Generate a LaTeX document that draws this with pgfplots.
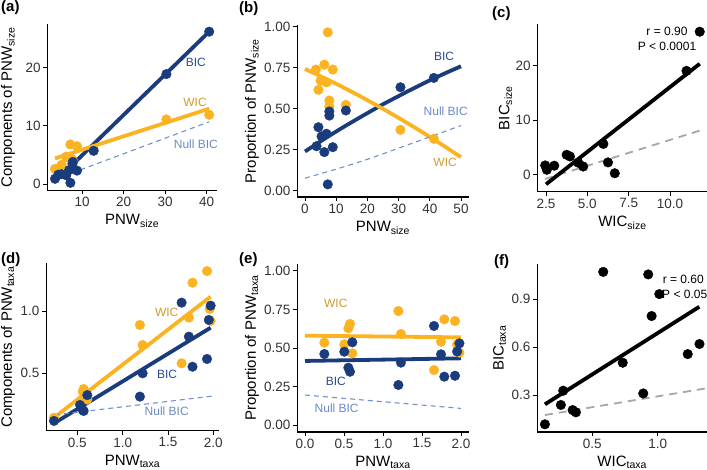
\documentclass[border=0pt]{standalone}
\usepackage{fontspec}
\setmainfont{Liberation Sans}
\usepackage{pgfplots}
\pgfplotsset{compat=1.18}
\definecolor{bicblue}{HTML}{1B3C7C}
\definecolor{wicorange}{HTML}{FBB321}
\definecolor{wictext}{HTML}{D09A2C}
\definecolor{bictext}{HTML}{2A4A8E}
\definecolor{nulltext}{HTML}{6B89C4}
\definecolor{nullline}{HTML}{7090CB}
\definecolor{grayline}{HTML}{A6A6A6}
\definecolor{tickgray}{HTML}{333333}
\pgfplotsset{
  panel/.style={
    scale only axis, anchor=south west, clip=false,
    axis lines*=left, axis line style={line width=1.1pt, -},
    tick align=outside, major tick length=4pt,
    tick style={line width=0.9pt, black},
    /pgf/number format/assume math mode=true,
    tick label style={font=\fontsize{13.5}{13.5}\selectfont, text=tickgray},
    xticklabel style={inner sep=2.5pt},
    yticklabel style={inner sep=2.5pt},
    label style={font=\fontsize{15}{15}\selectfont},
  },
  xlab/.style={xlabel style={at={([yshift=-24pt]axis description cs:0.5,0)}, anchor=north, inner sep=0pt}},
  ylab/.style={ylabel style={at={([xshift=-#1]axis description cs:0,0.5)}, anchor=south, inner sep=0pt}},
  bicpts/.style={only marks, mark=*, mark size=4.8pt, color=bicblue},
  wicpts/.style={only marks, mark=*, mark size=4.8pt, color=wicorange},
  blkpts/.style={only marks, mark=*, mark size=4.8pt, color=black},
  bicline/.style={no marks, line width=3.8pt, color=bicblue},
  wicline/.style={no marks, line width=3.8pt, color=wicorange},
  blkline/.style={no marks, line width=3.8pt, color=black},
  nullbic/.style={no marks, line width=1.1pt, color=nullline, dash pattern=on 5pt off 4pt},
  nullgray/.style={no marks, line width=1.8pt, color=grayline, dash pattern=on 8pt off 6pt},
}
\newcommand{\ann}{\fontsize{12}{12}\selectfont}
\begin{document}
\begin{tikzpicture}
\path[use as bounding box] (0pt,0pt) rectangle (707pt,470pt);

% (a)
\begin{axis}[panel, xlab, ylab=32pt,
  at={(47.3pt,279.6pt)}, width=169.6pt, height=166.3pt,
  xmin=1.645, xmax=42.455, ymin=-1.1, ymax=27.5,
  xtick={10,20,30,40}, ytick={0,10,20},
  xlabel={PNW\textsubscript{size}}, ylabel={Components of PNW\textsubscript{size}}]
\addplot[wicpts] coordinates {(3.5,2.6)(4.3,2.7)(5.1,3.3)(6.2,4.7)(6.9,4.5)(7.2,6.8)(7.7,4.2)(7.8,4.0)(8.8,6.5)(12.8,6.0)(30.3,11.1)(40.6,11.9)};
\addplot[bicpts] coordinates {(3.5,0.9)(4.3,1.6)(5.1,1.7)(6.2,1.5)(6.9,2.4)(7.2,0.2)(7.7,3.5)(7.8,3.8)(8.8,2.3)(12.8,5.7)(30.3,18.9)(40.6,26.2)};
\addplot[bicline] coordinates {(3.5,0.4)(40.6,26.2)};
\addplot[wicline] coordinates {(3.5,4.4)(40.6,12.95)};
\addplot[nullbic] coordinates {(3.5,0.8)(40.6,10.7)};
\node[font=\ann, text=bictext] at (axis cs:37.4,20.9) {BIC};
\node[font=\ann, text=wictext] at (axis cs:37.2,14.0) {WIC};
\node[font=\ann, text=nulltext] at (axis cs:37.4,6.9) {Null BIC};
\end{axis}

% (b)
\begin{axis}[panel, xlab, ylab=38pt,
  at={(297.2pt,273pt)}, width=171.6pt, height=172pt,
  xmin=-2.5, xmax=52.5, ymin=-0.04, ymax=1.01,
  xtick={0,10,20,30,40,50}, ytick={0,0.25,0.5,0.75,1},
  yticklabel style={/pgf/number format/.cd, fixed, fixed zerofill, precision=2},
  xlabel={PNW\textsubscript{size}}, ylabel={Proportion of PNW\textsubscript{size}}]
\addplot[wicpts] coordinates {(3.5,0.738)(4.3,0.614)(5.0,0.67)(6.2,0.768)(6.9,0.66)(7.3,0.965)(7.8,0.549)(7.8,0.512)(8.9,0.738)(13.1,0.522)(30.6,0.37)(41.3,0.315)};
\addplot[bicpts] coordinates {(3.7,0.27)(4.3,0.386)(5.3,0.33)(6.2,0.234)(6.9,0.346)(7.3,0.037)(7.8,0.457)(7.8,0.482)(8.9,0.264)(13.1,0.488)(30.6,0.63)(41.3,0.687)};
\addplot[bicline, smooth] coordinates {(0,0.238)(5,0.300)(10,0.360)(15,0.417)(20,0.472)(25,0.526)(30,0.576)(35,0.625)(40,0.672)(45,0.716)(50,0.758)};
\addplot[wicline, smooth] coordinates {(0,0.742)(5,0.697)(10,0.651)(15,0.602)(20,0.551)(25,0.498)(30,0.443)(35,0.386)(40,0.327)(45,0.266)(50,0.203)};
\addplot[nullbic, smooth] coordinates {(0,0.075)(10,0.13)(20,0.19)(30,0.258)(40,0.327)(50,0.396)};
\node[font=\ann, text=bictext] at (axis cs:44.6,0.82) {BIC};
\node[font=\ann, text=nulltext] at (axis cs:45.1,0.485) {Null BIC};
\node[font=\ann, text=wictext] at (axis cs:44.9,0.169) {WIC};
\end{axis}

% (c)
\begin{axis}[panel, xlab, ylab=25pt,
  at={(537.4pt,278.1pt)}, width=170.1pt, height=167.8pt,
  xmin=1.98, xmax=12.27, ymin=-3.17, ymax=27.7,
  xtick={2.5,5,7.5,10}, ytick={0,10,20},
  xticklabel style={/pgf/number format/.cd, fixed, fixed zerofill, precision=1},
  xlabel={WIC\textsubscript{size}}, ylabel={BIC\textsubscript{size}}]
\addplot[blkpts] coordinates {(2.55,0.9)(2.45,1.7)(3.0,1.65)(4.75,1.5)(4.45,2.2)(6.66,0.26)(3.95,3.35)(3.75,3.65)(6.25,2.25)(5.97,5.65)(11.0,19.1)(11.8,26.3)};
\addplot[nullgray] coordinates {(2.44,-0.8)(11.8,8.1)};
\addplot[blkline] coordinates {(2.5,-1.77)(11.8,20.4)};
\node[font=\ann] at (axis cs:9.82,26.3) {r = 0.90};
\node[font=\ann] at (axis cs:9.82,23.55) {P < 0.0001};
\end{axis}

% (d)
\begin{axis}[panel, xlab, ylab=31pt,
  at={(46.2pt,39.1pt)}, width=172.6pt, height=167.4pt,
  xmin=0.157, xmax=2.06, ymin=0.038, ymax=1.381,
  xtick={0.5,1,1.5,2}, ytick={0.5,1},
  xticklabel style={/pgf/number format/.cd, fixed, fixed zerofill, precision=1},
  yticklabel style={/pgf/number format/.cd, fixed, fixed zerofill, precision=1},
  xlabel={PNW\textsubscript{taxa}}, ylabel={Components of PNW\textsubscript{taxa}}]
\addplot[wicpts] coordinates {(0.243,0.144)(0.53,0.27)(0.56,0.353)(0.57,0.374)(0.61,0.29)(1.19,0.888)(1.22,0.727)(1.65,0.58)(1.73,0.947)(1.77,1.227)(1.93,1.32)(1.96,1.016)(1.97,0.92)};
\addplot[bicpts] coordinates {(0.243,0.118)(0.53,0.246)(0.56,0.205)(0.57,0.198)(0.61,0.325)(1.19,0.313)(1.22,0.5)(1.65,1.067)(1.73,0.794)(1.77,0.553)(1.93,0.615)(1.95,0.928)(1.97,1.043)};
\addplot[bicline] coordinates {(0.243,0.099)(1.97,0.866)};
\addplot[wicline] coordinates {(0.243,0.144)(1.97,1.115)};
\addplot[nullbic] coordinates {(0.25,0.166)(2.0,0.318)};
\node[font=\ann, text=wictext] at (axis cs:1.486,0.99) {WIC};
\node[font=\ann, text=bictext] at (axis cs:1.49,0.492) {BIC};
\node[font=\ann, text=nulltext] at (axis cs:1.486,0.197) {Null BIC};
\end{axis}

% (e)
\begin{axis}[panel, xlab, ylab=38pt,
  at={(297.2pt,38pt)}, width=171.6pt, height=168pt,
  xmin=-0.1, xmax=2.1, ymin=-0.045, ymax=1.045,
  xtick={0,0.5,1,1.5,2}, ytick={0,0.25,0.5,0.75,1},
  xticklabel style={/pgf/number format/.cd, fixed, fixed zerofill, precision=1},
  yticklabel style={/pgf/number format/.cd, fixed, fixed zerofill, precision=2},
  xlabel={PNW\textsubscript{taxa}}, ylabel={Proportion of PNW\textsubscript{taxa}}]
\addplot[wicpts] coordinates {(0.248,0.535)(0.504,0.524)(0.556,0.628)(0.577,0.656)(0.607,0.465)(1.197,0.74)(1.23,0.591)(1.654,0.357)(1.744,0.541)(1.786,0.686)(1.923,0.675)(1.95,0.523)(1.98,0.47)};
\addplot[bicpts] coordinates {(0.248,0.461)(0.504,0.476)(0.556,0.372)(0.577,0.346)(0.607,0.537)(1.197,0.26)(1.23,0.405)(1.654,0.643)(1.744,0.459)(1.786,0.314)(1.923,0.32)(1.95,0.477)(1.98,0.53)};
\addplot[wicline] coordinates {(0,0.58)(2,0.569)};
\addplot[bicline] coordinates {(0,0.416)(2,0.433)};
\addplot[nullbic] coordinates {(0,0.195)(2,0.108)};
\node[font=\ann, text=wictext] at (axis cs:0.395,0.79) {WIC};
\node[font=\ann, text=bictext] at (axis cs:0.395,0.281) {BIC};
\node[font=\ann, text=nulltext] at (axis cs:0.406,0.108) {Null BIC};
\end{axis}

% (f)
\begin{axis}[panel, xlab, ylab=31pt,
  at={(537.2pt,38pt)}, width=170pt, height=167.8pt,
  xmin=0.079, xmax=1.379, ymin=0.069, ymax=1.118,
  xtick={0.5,1}, ytick={0.3,0.6,0.9},
  xticklabel style={/pgf/number format/.cd, fixed, fixed zerofill, precision=1},
  yticklabel style={/pgf/number format/.cd, fixed, fixed zerofill, precision=1},
  xlabel={WIC\textsubscript{taxa}}, ylabel={BIC\textsubscript{taxa}}]
\addplot[blkpts] coordinates {(0.138,0.117)(0.26,0.238)(0.278,0.327)(0.35,0.206)(0.375,0.192)(0.584,1.07)(0.733,0.502)(0.89,0.31)(0.928,1.054)(0.954,0.794)(1.013,0.931)(1.23,0.556)(1.32,0.619)};
\addplot[nullgray] coordinates {(0.138,0.175)(1.379,0.343)};
\addplot[blkline] coordinates {(0.138,0.242)(1.319,0.852)};
\node[font=\ann] at (axis cs:1.196,1.023) {r = 0.60};
\node[font=\ann] at (axis cs:1.207,0.929) {P < 0.05};
\end{axis}

\node[font=\bfseries\fontsize{15}{15}\selectfont, anchor=west, inner sep=0pt] at (1pt,462.5pt) {(a)};
\node[font=\bfseries\fontsize{15}{15}\selectfont, anchor=west, inner sep=0pt] at (239pt,461pt) {(b)};
\node[font=\bfseries\fontsize{15}{15}\selectfont, anchor=west, inner sep=0pt] at (492pt,456pt) {(c)};
\node[font=\bfseries\fontsize{15}{15}\selectfont, anchor=west, inner sep=0pt] at (1pt,210.5pt) {(d)};
\node[font=\bfseries\fontsize{15}{15}\selectfont, anchor=west, inner sep=0pt] at (239pt,210pt) {(e)};
\node[font=\bfseries\fontsize{15}{15}\selectfont, anchor=west, inner sep=0pt] at (494pt,208pt) {(f)};
\end{tikzpicture}
\end{document}
